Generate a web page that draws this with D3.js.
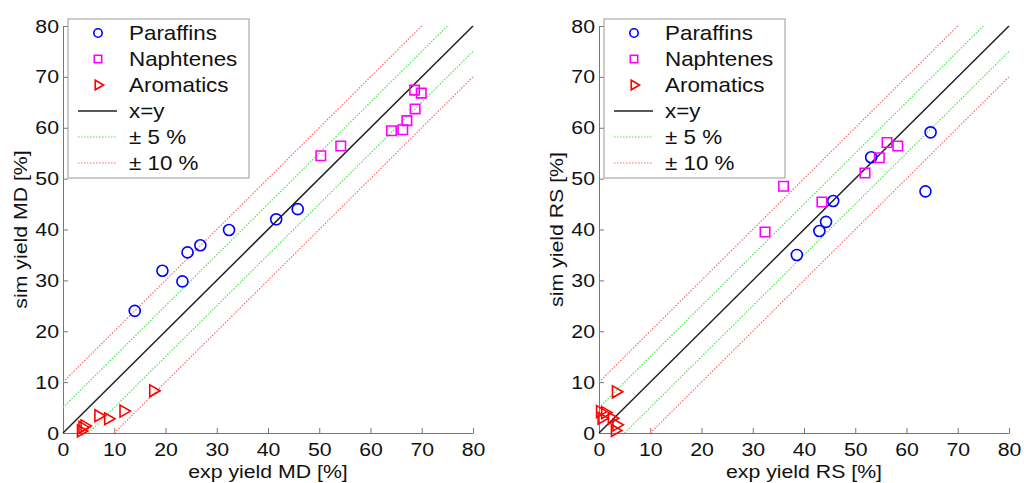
<!DOCTYPE html>
<html>
<head>
<meta charset="utf-8">
<script src="https://cdn.jsdelivr.net/npm/d3@7"></script>
<style>
  body { margin: 0; background: #fff; }
  text { font-family: "Liberation Sans", Arial, sans-serif; fill: #111; }
</style>
</head>
<body>
<svg id="chart" width="1024" height="483"></svg>
<script>
// data: [exp, sim]
const mdParaffins = [[14.0, 24.0], [19.4, 31.9], [23.3, 29.8], [24.3, 35.5], [26.8, 36.9], [32.4, 39.9], [41.6, 42.0], [45.8, 44.0]];
const mdNaphtenes = [[50.3, 54.5], [54.2, 56.4], [64.1, 59.4], [66.3, 59.6], [67.1, 61.4], [68.7, 63.7], [68.6, 67.4], [69.9, 66.8]];
const mdAromatics = [[3.5, 0.4], [3.8, 1.1], [4.2, 1.4], [6.9, 3.4], [8.8, 2.8], [11.8, 4.3], [17.6, 8.3]];

const rsParaffins = [[64.7, 59.1], [63.7, 47.5], [53.1, 54.2], [45.7, 45.6], [44.3, 41.5], [43.0, 39.7], [38.6, 35.0]];
const rsNaphtenes = [[36.0, 48.5], [32.4, 39.5], [43.5, 45.4], [51.9, 51.1], [54.7, 54.1], [56.2, 57.1], [58.3, 56.4]];
const rsAromatics = [[3.3, 8.1], [0.2, 4.2], [1.2, 4.0], [0.5, 2.9], [2.5, 2.9], [3.4, 1.6], [3.1, 0.5]];

const ticks = [0, 10, 20, 30, 40, 50, 60, 70, 80];
const legendLabels = ["Paraffins", "Naphtenes", "Aromatics", "x=y", "\u00b1 5 %", "\u00b1 10 %"];

const svg = d3.select("#chart");

const plotTop = 26, plotBottom = 433, plotW = 410;
const stretch = 1.12; // the text in the picture is a bit wider than the font
const redDot = "#ff6a6a", greenDot = "#55e055";

function drawPanel(x0, name, paraffins, naphtenes, aromatics) {
    const x = d3.scaleLinear().domain([0, 80]).range([x0, x0 + plotW]);
    const y = d3.scaleLinear().domain([0, 80]).range([plotBottom, plotTop]);
    const g = svg.append("g");

    // axes, ticks inward
    const xAxis = g.append("g")
        .attr("transform", `translate(0, ${plotBottom})`)
        .call(d3.axisBottom(x).tickValues(ticks).tickSize(-5).tickPadding(10).tickSizeOuter(0));
    const yAxis = g.append("g")
        .attr("transform", `translate(${x0}, 0)`)
        .call(d3.axisLeft(y).tickValues(ticks).tickSize(-5).tickPadding(4).tickSizeOuter(0));
    [xAxis, yAxis].forEach(a => {
        a.select(".domain").attr("stroke", "#777");
        a.selectAll(".tick line").attr("stroke", "#777");
        a.selectAll(".tick text").style("font-size", "19px")
            .style("font-family", "Liberation Sans, Arial, sans-serif")
            .attr("fill", "#111");
    });
    xAxis.selectAll(".tick text").attr("transform", `scale(${stretch},1)`);
    yAxis.selectAll(".tick text").attr("transform", `scale(${stretch},1)`)
        .attr("x", -4 / stretch);

    // axis labels
    g.append("text")
        .attr("transform", `translate(${x(40)}, 478) scale(${stretch},1)`)
        .attr("text-anchor", "middle")
        .style("font-size", "19px")
        .text("exp yield " + name + " [%]");
    g.append("text")
        .attr("transform", `translate(${x0 - 36}, ${y(40)}) rotate(-90) scale(${stretch},1)`)
        .attr("text-anchor", "middle")
        .style("font-size", "19px")
        .text("sim yield " + name + " [%]");

    // reference lines
    const refs = [
        { off: 10, color: redDot, dash: "1.5,1.5", w: 1.2 },
        { off: -10, color: redDot, dash: "1.5,1.5", w: 1.2 },
        { off: 5, color: greenDot, dash: "1.5,1.5", w: 1.2 },
        { off: -5, color: greenDot, dash: "1.5,1.5", w: 1.2 },
        { off: 0, color: "#222", dash: null, w: 1.5 }
    ];
    refs.forEach(r => {
        const xs = r.off >= 0 ? [0, 80 - r.off] : [-r.off, 80];
        g.append("line")
            .attr("x1", x(xs[0])).attr("y1", y(xs[0] + r.off))
            .attr("x2", x(xs[1])).attr("y2", y(xs[1] + r.off))
            .attr("stroke", r.color)
            .attr("stroke-width", r.w)
            .attr("stroke-dasharray", r.dash);
    });

    const circle = d3.symbol().type(d3.symbolCircle).size(95);
    const square = d3.symbol().type(d3.symbolSquare).size(90);
    const tri = d3.symbol().type(d3.symbolTriangle).size(62);

    g.selectAll(".par").data(paraffins).join("path")
        .attr("d", circle)
        .attr("transform", d => `translate(${x(d[0])},${y(d[1])})`)
        .attr("fill", "none").attr("stroke", "#0000ff").attr("stroke-width", 1.6);
    g.selectAll(".nap").data(naphtenes).join("path")
        .attr("d", square)
        .attr("transform", d => `translate(${x(d[0])},${y(d[1])})`)
        .attr("fill", "none").attr("stroke", "#ff00ff").attr("stroke-width", 1.6);
    g.selectAll(".aro").data(aromatics).join("path")
        .attr("d", tri)
        .attr("transform", d => `translate(${x(d[0])},${y(d[1])}) rotate(90)`)
        .attr("fill", "none").attr("stroke", "#ff0000").attr("stroke-width", 1.6);

    // legend
    const lg = g.append("g").attr("transform", `translate(${x0 + 5}, 19)`);
    lg.append("rect")
        .attr("width", 181).attr("height", 159)
        .attr("fill", "#fff").attr("stroke", "#999").attr("stroke-width", 1);
    legendLabels.forEach((label, i) => {
        const ly = 14 + i * 26;
        const mx = 30;
        if (i === 0) {
            lg.append("path").attr("d", d3.symbol().type(d3.symbolCircle).size(55))
                .attr("transform", `translate(${mx},${ly})`)
                .attr("fill", "none").attr("stroke", "#0000ff").attr("stroke-width", 1.6);
        } else if (i === 1) {
            lg.append("path").attr("d", d3.symbol().type(d3.symbolSquare).size(55))
                .attr("transform", `translate(${mx},${ly})`)
                .attr("fill", "none").attr("stroke", "#ff00ff").attr("stroke-width", 1.6);
        } else if (i === 2) {
            lg.append("path").attr("d", d3.symbol().type(d3.symbolTriangle).size(40))
                .attr("transform", `translate(${mx},${ly}) rotate(90)`)
                .attr("fill", "none").attr("stroke", "#ff0000").attr("stroke-width", 1.6);
        } else {
            const col = i === 3 ? "#222" : (i === 4 ? greenDot : redDot);
            lg.append("line")
                .attr("x1", 10).attr("x2", 49).attr("y1", ly).attr("y2", ly)
                .attr("stroke", col).attr("stroke-width", i === 3 ? 1.5 : 1.2)
                .attr("stroke-dasharray", i === 3 ? null : "1.5,1.5");
        }
        lg.append("text")
            .attr("transform", `translate(61, ${ly + 7}) scale(${stretch},1)`)
            .style("font-size", "20px")
            .text(label);
    });
}

drawPanel(63, "MD", mdParaffins, mdNaphtenes, mdAromatics);
drawPanel(599, "RS", rsParaffins, rsNaphtenes, rsAromatics);
</script>
</body>
</html>
